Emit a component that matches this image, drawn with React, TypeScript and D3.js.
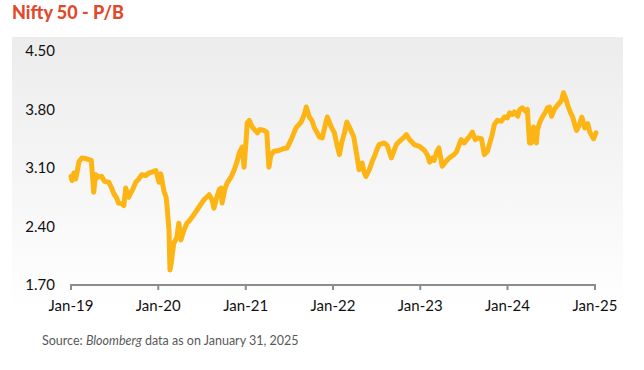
import React from 'react';
import * as d3 from 'd3';

const dates: string[] = [
  '2019-01-01', '2019-01-05', '2019-01-13', '2019-01-21', '2019-02-04', '2019-02-16', '2019-03-07', '2019-03-27',
  '2019-04-06', '2019-04-14', '2019-04-26', '2019-05-09', '2019-05-21', '2019-06-08', '2019-06-20', '2019-06-28',
  '2019-07-11', '2019-07-19', '2019-08-02', '2019-08-10', '2019-08-18', '2019-08-30', '2019-09-17', '2019-09-29',
  '2019-10-12', '2019-10-24', '2019-11-10', '2019-11-23', '2019-12-05', '2019-12-22', '2020-01-04', '2020-01-12',
  '2020-01-25', '2020-02-03', '2020-02-07', '2020-02-15', '2020-02-19', '2020-02-24', '2020-02-28', '2020-03-06',
  '2020-03-19', '2020-03-27', '2020-04-05', '2020-04-18', '2020-04-30', '2020-05-08', '2020-05-21', '2020-06-07',
  '2020-06-19', '2020-07-10', '2020-08-01', '2020-08-13', '2020-08-21', '2020-09-04', '2020-09-12', '2020-09-20',
  '2020-09-24', '2020-10-07', '2020-10-15', '2020-11-02', '2020-11-14', '2020-11-26', '2020-12-05', '2020-12-17',
  '2020-12-25', '2021-01-03', '2021-01-07', '2021-01-16', '2021-01-28', '2021-02-10', '2021-02-19', '2021-03-01',
  '2021-03-18', '2021-03-30', '2021-04-08', '2021-04-16', '2021-04-29', '2021-05-20', '2021-06-06', '2021-06-23',
  '2021-07-10', '2021-07-30', '2021-08-21', '2021-09-03', '2021-09-11', '2021-09-24', '2021-10-06', '2021-10-14',
  '2021-10-27', '2021-11-05', '2021-11-17', '2021-11-30', '2021-12-08', '2021-12-25', '2022-01-07', '2022-01-15',
  '2022-01-28', '2022-02-06', '2022-02-18', '2022-02-28', '2022-03-17', '2022-03-29', '2022-04-12', '2022-04-20',
  '2022-05-03', '2022-05-11', '2022-05-19', '2022-06-02', '2022-06-14', '2022-06-22', '2022-07-05', '2022-07-13',
  '2022-08-03', '2022-08-16', '2022-09-02', '2022-09-15', '2022-09-23', '2022-10-14', '2022-10-26', '2022-11-04',
  '2022-11-17', '2022-12-07', '2022-12-28', '2023-01-19', '2023-02-01', '2023-02-09', '2023-02-22', '2023-02-28',
  '2023-03-12', '2023-03-20', '2023-04-03', '2023-04-19', '2023-05-02', '2023-05-22', '2023-06-01', '2023-06-21',
  '2023-07-04', '2023-07-12', '2023-07-24', '2023-08-07', '2023-08-19', '2023-08-27', '2023-09-14', '2023-09-26',
  '2023-10-09', '2023-10-17', '2023-10-29', '2023-11-07', '2023-11-20', '2023-12-07', '2023-12-19', '2024-01-01',
  '2024-01-10', '2024-01-22', '2024-01-30', '2024-02-13', '2024-02-21', '2024-03-03', '2024-03-16', '2024-03-24',
  '2024-04-02', '2024-04-10', '2024-04-19', '2024-05-01', '2024-05-05', '2024-05-14', '2024-05-26', '2024-06-08',
  '2024-06-16', '2024-06-25', '2024-07-03', '2024-07-15', '2024-07-28', '2024-08-14', '2024-08-22', '2024-09-01',
  '2024-09-09', '2024-09-21', '2024-09-30', '2024-10-08', '2024-10-16', '2024-10-28', '2024-11-07', '2024-11-19',
  '2024-12-02', '2024-12-10', '2024-12-18', '2024-12-26', '2025-01-05',
];

const pbValues: number[] = [
  3.00, 2.95, 3.04, 2.97, 3.18, 3.22, 3.21, 3.19,
  2.81, 3.02, 2.99, 3.00, 2.94, 2.93, 2.86, 2.80,
  2.74, 2.68, 2.67, 2.65, 2.86, 2.75, 2.85, 2.93,
  2.97, 3.02, 3.01, 3.04, 3.05, 3.07, 2.93, 3.03,
  2.82, 2.75, 2.63, 2.36, 1.88, 1.95, 2.05, 2.20,
  2.27, 2.44, 2.24, 2.36, 2.44, 2.46, 2.51, 2.58,
  2.63, 2.72, 2.78, 2.72, 2.62, 2.77, 2.84, 2.86,
  2.68, 2.86, 2.92, 3.00, 3.08, 3.18, 3.28, 3.35,
  3.11, 3.45, 3.64, 3.67, 3.59, 3.55, 3.52, 3.56,
  3.55, 3.53, 3.11, 3.25, 3.30, 3.31, 3.33, 3.34,
  3.44, 3.58, 3.65, 3.74, 3.83, 3.71, 3.66, 3.59,
  3.52, 3.47, 3.46, 3.62, 3.71, 3.59, 3.52, 3.41,
  3.26, 3.40, 3.52, 3.65, 3.55, 3.47, 3.23, 3.08,
  3.16, 3.05, 3.00, 3.08, 3.18, 3.23, 3.33, 3.38,
  3.40, 3.37, 3.22, 3.32, 3.38, 3.44, 3.47, 3.50,
  3.44, 3.38, 3.36, 3.31, 3.25, 3.17, 3.22, 3.19,
  3.30, 3.34, 3.12, 3.18, 3.22, 3.26, 3.29, 3.44,
  3.40, 3.43, 3.47, 3.53, 3.44, 3.46, 3.45, 3.26,
  3.30, 3.38, 3.50, 3.62, 3.67, 3.66, 3.71, 3.70,
  3.76, 3.74, 3.77, 3.72, 3.80, 3.82, 3.78, 3.80,
  3.40, 3.40, 3.59, 3.40, 3.55, 3.64, 3.71, 3.77,
  3.82, 3.83, 3.72, 3.80, 3.85, 3.91, 4.00, 3.93,
  3.85, 3.76, 3.71, 3.62, 3.55, 3.62, 3.71, 3.58,
  3.63, 3.53, 3.49, 3.45, 3.52,
];

const yTicks: number[] = [1.7, 2.4, 3.1, 3.8, 4.5];
const xTickDates: string[] = ['2019-01-01', '2020-01-01', '2021-01-01', '2022-01-01', '2023-01-01', '2024-01-01', '2025-01-01'];

const W = 644;
const H = 370;
const font = 'Lato, "Open Sans", sans-serif';

const App: React.FC = () => {
  const parse = d3.timeParse('%Y-%m-%d');
  const points = dates.map((d, i) => ({ date: parse(d) as Date, value: pbValues[i] }));

  const x = d3.scaleTime()
    .domain([parse('2019-01-01') as Date, parse('2025-01-01') as Date])
    .range([71, 595]);

  const y = d3.scaleLinear()
    .domain([1.7, 4.5])
    .range([285, 51]);

  const line = d3.line<{ date: Date; value: number }>()
    .x(d => x(d.date))
    .y(d => y(d.value));

  const fmtX = d3.timeFormat('%b-%y');

  return (
    <svg width={W} height={H} style={{ position: 'absolute', left: 0, top: 0, background: '#fff' }}>
      <defs>
        <linearGradient id="panelBg" x1="0" y1="0" x2="0" y2="1">
          <stop offset="0%" stopColor="#ececec" />
          <stop offset="100%" stopColor="#ffffff" />
        </linearGradient>
      </defs>

      <text x={12} y={19} fontFamily={font} fontWeight={900} fontSize={18} fill="#e2492b">Nifty 50 - P/B</text>

      <rect x={12} y={37} width={611} height={276} fill="url(#panelBg)" />

      {/* y labels */}
      {yTicks.map(t => (
        <text key={t} x={55} y={y(t)} dy="0.35em" textAnchor="end" fontFamily={font} fontSize={15} fill="#111">
          {t.toFixed(2)}
        </text>
      ))}

      {/* x axis */}
      <line x1={x.range()[0]} x2={x.range()[1]} y1={285} y2={285} stroke="#8c8c8c" strokeWidth={2} />
      {xTickDates.map(s => {
        const d = parse(s) as Date;
        return (
          <g key={s} transform={`translate(${x(d)},0)`}>
            <line y1={284} y2={290} stroke="#8c8c8c" strokeWidth={2} />
            <text y={311} textAnchor="middle" fontFamily={font} fontSize={15} fill="#111">{fmtX(d)}</text>
          </g>
        );
      })}

      <path d={line(points) ?? ''} fill="none" stroke="#fcb514" strokeWidth={5} strokeLinejoin="round" strokeLinecap="round" />

      <text x={42} y={345} fontFamily={font} fontSize={12.5} fill="#595959">
        Source: <tspan fontStyle="italic">Bloomberg</tspan> data as on January 31, 2025
      </text>
    </svg>
  );
};

export default App;
